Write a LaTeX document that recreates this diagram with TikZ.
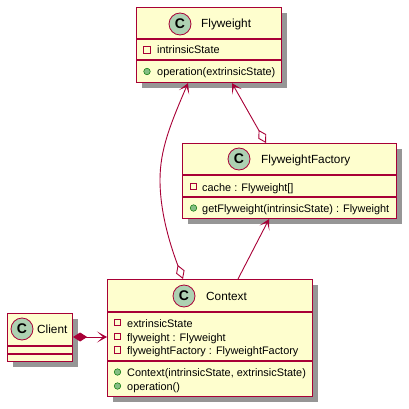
\documentclass[tikz,border=0pt]{standalone}
\usepackage{fontspec}
\setmainfont{Liberation Sans}
\usetikzlibrary{arrows.meta,shadows}
\definecolor{umlred}{HTML}{A80036}
\definecolor{umlfill}{HTML}{FEFECE}
\definecolor{umlgreen}{HTML}{ADD1B2}
\definecolor{pubgreen}{HTML}{84BE84}
\tikzset{
  classbox/.style={draw=umlred, fill=umlfill, line width=1.1pt, anchor=north west, inner sep=0pt,
    drop shadow={shadow xshift=5pt, shadow yshift=-5pt, fill=black!55, opacity=.75}},
  classmark/.style={circle, draw=umlred, fill=umlgreen, line width=0.8pt, minimum size=22pt, inner sep=0pt,
    font=\fontsize{14}{14}\selectfont\bfseries},
  title/.style={anchor=base west, inner sep=0pt, font=\fontsize{11.8}{14}\selectfont},
  member/.style={anchor=base west, inner sep=0pt, font=\fontsize{10.9}{14}\selectfont},
  privmark/.style={draw=umlred, line width=0.8pt, fill=none, minimum size=6.5pt, inner sep=0pt},
  pubmark/.style={circle, draw=black!55!green, fill=pubgreen, line width=0.5pt, minimum size=6.5pt, inner sep=0pt},
  sepline/.style={draw=umlred, line width=1.1pt},
  relline/.style={draw=umlred, line width=0.9pt},
  toopen/.style={{Stealth[length=10pt,width=11pt,inset=6pt]}-{Diamond[open,fill=white,length=15pt,width=9pt]}},
}
\begin{document}
\begin{tikzpicture}[x=1pt,y=-1pt]
\useasboundingbox (0,0) rectangle (409,409);

% boxes
\node[classbox, minimum width=145pt, minimum height=75pt] (flyweight) at (136,7) {};
\node[classbox, minimum width=214pt, minimum height=75pt] (factory) at (182,143) {};
\node[classbox, minimum width=205pt, minimum height=117pt] (context) at (107,279) {};
\node[classbox, minimum width=65pt, minimum height=48pt] (client) at (7,313) {};

% compartments
\draw[sepline] ([yshift=-32pt]flyweight.north west) -- ([yshift=-32pt]flyweight.north east);
\draw[sepline] ([yshift=-53pt]flyweight.north west) -- ([yshift=-53pt]flyweight.north east);
\draw[sepline] ([yshift=-32pt]factory.north west) -- ([yshift=-32pt]factory.north east);
\draw[sepline] ([yshift=-54pt]factory.north west) -- ([yshift=-54pt]factory.north east);
\draw[sepline] ([yshift=-33pt]context.north west) -- ([yshift=-33pt]context.north east);
\draw[sepline] ([yshift=-82pt]context.north west) -- ([yshift=-82pt]context.north east);
\draw[sepline] ([yshift=-33pt]client.north west) -- ([yshift=-33pt]client.north east);
\draw[sepline] ([yshift=-41pt]client.north west) -- ([yshift=-41pt]client.north east);

% Flyweight
\node[classmark] (flyweightC) at (180,24) {C};
\node[title] (flyweightT) at (201,28) {Flyweight};
\node[privmark] (flyweightP) at (147,50) {};
\node[member] (flyweightA) at (157,54) {intrinsicState};
\node[pubmark] (flyweightO) at (147,71.5) {};
\node[member] (flyweightB) at (157,76) {operation(extrinsicState)};

% FlyweightFactory
\node[classmark] (factoryC) at (239,159) {C};
\node[title] (factoryT) at (261,163) {FlyweightFactory};
\node[privmark] (factoryP) at (193.5,186.5) {};
\node[member] (factoryA) at (202,191) {cache : Flyweight[]};
\node[pubmark] (factoryO) at (193.5,208) {};
\node[member] (factoryB) at (202,212) {getFlyweight(intrinsicState) : Flyweight};

% Context
\node[classmark] (contextC) at (184,296) {C};
\node[title] (contextT) at (206,300) {Context};
\node[privmark] (contextP) at (117.5,322.5) {};
\node[member] (contextA) at (127,327) {extrinsicState};
\node[privmark] (contextQ) at (117.5,336.5) {};
\node[member] (contextB) at (127,341) {flyweight : Flyweight};
\node[privmark] (contextR) at (117.5,350) {};
\node[member] (contextD) at (127,354.5) {flyweightFactory : FlyweightFactory};
\node[pubmark] (contextO) at (117.5,372) {};
\node[member] (contextE) at (127,376.5) {Context(intrinsicState, extrinsicState)};
\node[pubmark] (contextU) at (117.5,386) {};
\node[member] (contextF) at (127,390.5) {operation()};

% Client
\node[classmark] (clientC) at (22,329) {C};
\node[title] (clientT) at (37,333) {Client};

% relations
\draw[relline, toopen] ([xshift=52pt]flyweight.south west) .. controls (170,125) and (160,150) .. (160,180) .. controls (160,215) and (172,250) .. ([xshift=76pt]context.north west);
\draw[relline, toopen] ([xshift=96pt]flyweight.south west) -- ([xshift=84pt]factory.north west);
\draw[relline, -{Stealth[length=10pt,width=11pt,inset=6pt]}] ([xshift=131pt]context.north west) -- ([xshift=87pt]factory.south west);
\draw[relline, {Diamond[length=14pt,width=9pt]}-{Stealth[length=10pt,width=11pt,inset=6pt]}] ([yshift=-24pt]client.north east) -- ([yshift=-58pt]context.north west);
\end{tikzpicture}
\end{document}
